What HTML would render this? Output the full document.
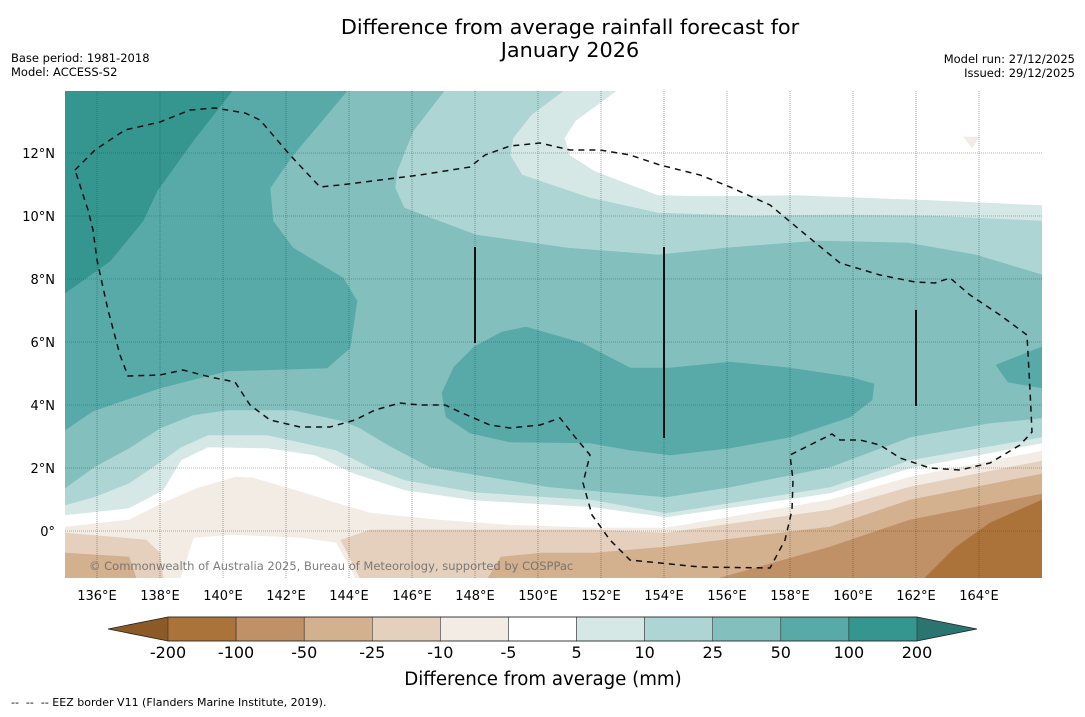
<!DOCTYPE html>
<html><head><meta charset="utf-8"><style>
body{margin:0;background:#fff;width:1085px;height:713px;overflow:hidden;font-family:"DejaVu Sans","Liberation Sans",sans-serif}
svg text{font-family:"DejaVu Sans","Liberation Sans",sans-serif}
</style></head><body>
<svg id="fig" width="1085" height="713" viewBox="0 0 1085 713" xmlns="http://www.w3.org/2000/svg">
<text x="570" y="34" font-size="20.8" text-anchor="middle">Difference from average rainfall forecast for</text>
<text x="570" y="57" font-size="20.8" text-anchor="middle">January 2026</text>
<text x="11" y="62" font-size="11.5">Base period: 1981-2018</text>
<text x="11" y="76" font-size="11.5">Model: ACCESS-S2</text>
<text x="1075" y="63" font-size="11.5" text-anchor="end">Model run: 27/12/2025</text>
<text x="1075" y="77" font-size="11.5" text-anchor="end">Issued: 29/12/2025</text>
<defs><clipPath id="mapclip"><rect x="65" y="91" width="977" height="487"/></clipPath></defs>
<g id="map" clip-path="url(#mapclip)">
<rect x="65" y="91" width="977" height="487" fill="#ffffff"/>
<g id="contours"></g>
<g id="grid"></g>
<g id="eez"></g>
<text x="89" y="570" font-size="11.5" fill="#6f6f6f" fill-opacity="0.9">© Commonwealth of Australia 2025, Bureau of Meteorology, supported by COSPPac</text>
</g>
<g id="xticks"></g><g id="yticks"></g>
<g id="colorbar"></g>
<text x="543" y="685" font-size="18.2" text-anchor="middle">Difference from average (mm)</text>
<text x="11" y="706" font-size="11" xml:space="preserve">--  --  -- EEZ border V11 (Flanders Marine Institute, 2019).</text>
</svg>
<script>
const NS="http://www.w3.org/2000/svg";
const lonTicks=[136,138,140,142,144,146,148,150,152,154,156,158,160,162,164];
const latTicks=[0,2,4,6,8,10,12];
const levelLabels=["-200","-100","-50","-25","-10","-5","5","10","25","50","100","200"];
const levelColors=["#ab733a","#c09066","#d3b08e","#e4d0bd","#f2ece5","#ffffff","#d5e8e6","#acd5d3","#82bfbd","#58aaa8","#35958f"];
const X0=65,X1=1042,Y0=91,Y1=578;
function lonX(l){return 97+(l-136)*31.5;}
function latY(l){return 531-l*31.5;}
function mk(tag,attrs,parent){const e=document.createElementNS(NS,tag);for(const k in attrs)e.setAttribute(k,attrs[k]);parent.appendChild(e);return e;}
function P(a){return a.map(p=>p.join(",")).join(" ");}
const C=document.getElementById("contours");
function poly(pts,fill,name){const e=mk("polygon",{points:P(pts),fill:fill,stroke:fill,"stroke-width":"0.6"},C);

}
poly([[65,91],[1042,91],[1042,443],[910,468],[830,493],[666,517],[594,507],[474,500],[405,490],[353,473],[315,455],[267,448],[208,447],[181,460],[163,490],[129,508],[65,515]],"#d5e8e6","contour-5-10");
poly([[617,91],[1042,91],[1042,205],[931,200],[795,195],[704,196],[658,195],[595,171],[570,155],[565,138],[576,121]],"#ffffff","contour-dry-north");
poly([[964,137],[979,137],[972,148]],"#f2ece5","contour-small-island");
poly([[65,91],[563,91],[531,115],[513,138],[510,155],[522,175],[590,198],[658,213],[749,216],[840,215],[931,216],[1042,221],[1042,437],[910,460],[830,487],[666,513],[594,500],[474,492],[405,480],[370,467],[336,450],[267,435],[208,435],[181,447],[163,460],[129,483],[94,497],[65,505]],"#acd5d3","contour-10-25");
poly([[65,91],[444,91],[413,131],[397,171],[395,188],[404,208],[476,235],[567,248],[658,255],[726,248],[817,241],[908,243],[976,255],[1042,275],[1042,418],[990,423],[910,437],[830,467],[730,487],[666,497],[550,487],[430,467],[390,446],[360,428],[343,421],[293,410],[227,410],[193,415],[160,428],[129,448],[94,467],[65,488]],"#82bfbd","contour-25-50");
poly([[65,91],[347,91],[293,155],[270,188],[273,221],[293,248],[343,278],[357,301],[350,348],[327,368],[227,371],[160,388],[93,411],[65,430]],"#58aaa8","contour-50-100-west");
poly([[442,393],[454,367],[474,347],[502,332],[526,327],[582,343],[630,368],[670,368],[730,362],[790,368],[850,377],[874,384],[872,400],[850,417],[790,437],[730,448],[670,455],[630,450],[590,443],[510,442],[470,433],[446,417]],"#58aaa8","contour-50-100-central");
poly([[996,365],[1042,347],[1042,388],[1008,382]],"#58aaa8","contour-50-100-east");
poly([[65,91],[232,91],[193,141],[157,191],[143,221],[110,261],[65,293]],"#35958f","contour-100-200");
poly([[65,527],[129,520],[163,503],[198,488],[236,477],[253,478],[301,492],[336,503],[370,513],[439,520],[508,525],[594,528],[666,528],[830,500],[910,477],[1042,451],[1042,578],[65,578]],"#f2ece5","contour-neg5-neg10");
poly([[181,578],[194,538],[232,535],[301,538],[336,543],[355,578]],"#ffffff","contour-near-zero-south");
poly([[65,533],[146,540],[160,553],[163,578],[65,578]],"#e4d0bd","contour-neg10-neg25-west");
poly([[360,578],[341,540],[370,530],[450,530],[594,530],[666,533],[830,510],[910,487],[1042,461],[1042,578]],"#e4d0bd","contour-neg10-neg25-east");
poly([[65,553],[129,557],[136,578],[65,578]],"#d3b08e","contour-neg25-neg50-west");
poly([[488,578],[501,557],[543,553],[594,553],[666,547],[830,527],[910,500],[1042,474],[1042,578]],"#d3b08e","contour-neg25-neg50-east");
poly([[720,578],[830,547],[910,520],[1042,494],[1042,578]],"#c09066","contour-neg50-neg100");
poly([[925,578],[955,548],[990,523],[1042,500],[1042,578]],"#ab733a","contour-neg100-neg200");
const G=document.getElementById("grid");
lonTicks.forEach(l=>{const e=mk("line",{x1:lonX(l),x2:lonX(l),y1:Y0,y2:Y1,stroke:"#444","stroke-width":"0.6","stroke-dasharray":"1,1","stroke-opacity":"0.8"},G);

});
latTicks.forEach(l=>{const e=mk("line",{x1:X0,x2:X1,y1:latY(l),y2:latY(l),stroke:"#444","stroke-width":"0.6","stroke-dasharray":"1,1","stroke-opacity":"0.8"},G);

});
const E=document.getElementById("eez");
const eezPts=[[75,170],[95,150],[125,130],[160,122],[190,110],[215,108],[245,113],[260,120],[290,155],[320,187],[340,185],[380,180],[420,175],[470,167],[485,155],[510,146],[540,143],[570,150],[600,150],[630,155],[660,165],[700,175],[730,187],[770,205],[800,230],[840,263],[880,275],[915,282],[935,283],[950,278],[970,295],[1000,315],[1027,335],[1030,390],[1032,432],[1020,445],[990,463],[960,470],[930,468],[900,458],[880,445],[860,440],[840,440],[832,434],[800,450],[790,455],[793,480],[792,510],[785,540],[770,568],[700,567],[660,563],[630,560],[610,540],[592,515],[583,483],[590,455],[575,437],[560,418],[540,425],[510,428],[490,425],[460,412],[445,405],[420,405],[400,403],[375,410],[355,420],[330,427],[300,427],[270,420],[250,405],[235,382],[210,377],[183,370],[160,375],[128,376],[120,355],[108,310],[97,260],[93,230],[88,210],[75,170]];
const eez=mk("polyline",{points:P(eezPts),fill:"none",stroke:"#111","stroke-width":"1.5","stroke-dasharray":"6,5"},E);


[[475,247,343],[664,247,438],[916,310,406]].forEach(v=>{const e=mk("line",{x1:v[0],x2:v[0],y1:v[1],y2:v[2],stroke:"#111","stroke-width":"2"},E);

});
const XT=document.getElementById("xticks");
lonTicks.forEach(l=>{const t=mk("text",{x:lonX(l),y:600,"font-size":"13","text-anchor":"middle"},XT);t.textContent=l+"°E";

});
const YT=document.getElementById("yticks");
latTicks.forEach(l=>{const t=mk("text",{x:55,y:latY(l)+5,"font-size":"13","text-anchor":"end"},YT);t.textContent=l+"°"+(l>0?"N":"");

});
const CB=document.getElementById("colorbar");
const cbx0=168,cbx1=917,cby0=617,cby1=641,bw=(cbx1-cbx0)/levelColors.length;
const la=mk("polygon",{points:P([[108,629],[cbx0,cby0],[cbx0,cby1]]),fill:"#8c5a26"},CB);


const ra=mk("polygon",{points:P([[977,629],[cbx1,cby0],[cbx1,cby1]]),fill:"#2a7570"},CB);


levelColors.forEach((c,i)=>{const r=mk("rect",{x:cbx0+i*bw,y:cby0,width:bw,height:cby1-cby0,fill:c,stroke:"#222","stroke-width":"0.5"},CB);

});
const ol=mk("polygon",{points:P([[108,629],[cbx0,cby0],[cbx1,cby0],[977,629],[cbx1,cby1],[cbx0,cby1]]),fill:"none",stroke:"#222","stroke-width":"0.8"},CB);


levelLabels.forEach((s,i)=>{const t=mk("text",{x:cbx0+i*bw,y:658,"font-size":"16","text-anchor":"middle"},CB);t.textContent=s;

});
</script>
</body></html>
